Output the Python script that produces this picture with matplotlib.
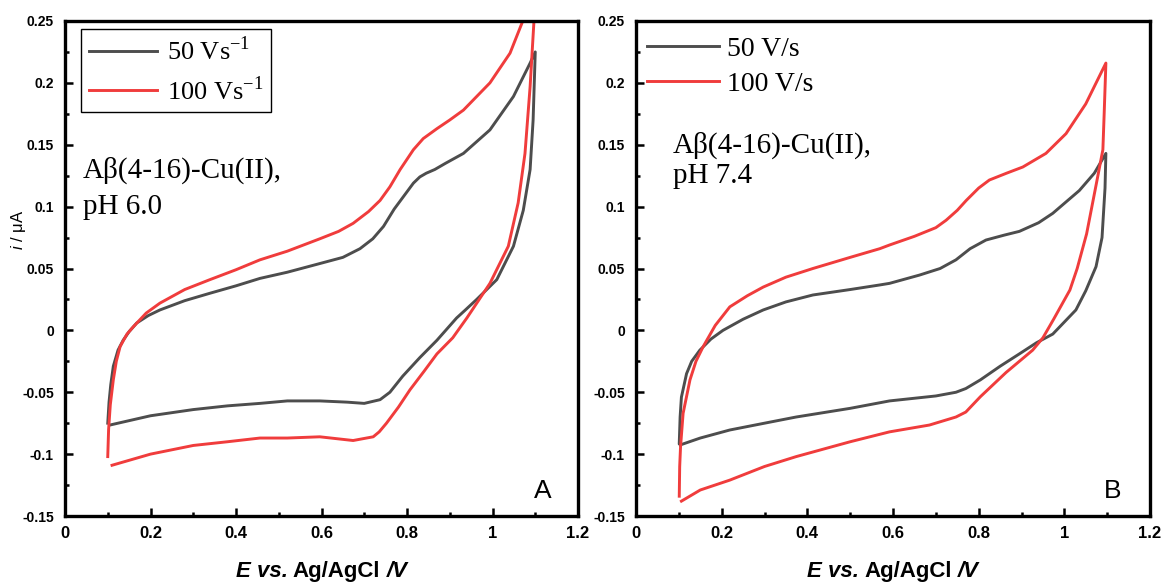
import numpy as np
import matplotlib
matplotlib.use('Agg')
from matplotlib import pyplot as plt
from matplotlib.ticker import MultipleLocator, FuncFormatter

plt.rcParams['font.family'] = 'Liberation Sans'
plt.rcParams['axes.unicode_minus'] = False
plt.rcParams['mathtext.fontset'] = 'custom'
plt.rcParams['mathtext.rm'] = 'Liberation Serif'
plt.rcParams['mathtext.it'] = 'Liberation Sans:italic'

# ---- panel A, pH 6.0 ----
a50_E_fwd = [0.100, 0.103, 0.107, 0.113, 0.124, 0.136, 0.150, 0.168, 0.195, 0.222, 0.280, 0.339, 0.400,
             0.456, 0.520, 0.596, 0.650, 0.690, 0.720, 0.745, 0.770, 0.800, 0.815, 0.830, 0.845, 0.865,
             0.890, 0.932, 0.994, 1.049, 1.088, 1.100]
a50_i_fwd = [-0.075, -0.058, -0.044, -0.029, -0.016, -0.008, -0.001, 0.006, 0.012, 0.0165, 0.024, 0.030,
             0.036, 0.042, 0.047, 0.054, 0.059, 0.066, 0.074, 0.084, 0.098, 0.112, 0.119, 0.124, 0.127,
             0.130, 0.135, 0.143, 0.162, 0.189, 0.216, 0.225]
a50_E_rev = [1.100, 1.095, 1.088, 1.072, 1.049, 1.010, 0.963, 0.935, 0.916, 0.870, 0.830, 0.790, 0.760,
             0.737, 0.700, 0.660, 0.596, 0.520, 0.456, 0.380, 0.300, 0.200, 0.105]
a50_i_rev = [0.225, 0.170, 0.130, 0.097, 0.068, 0.041, 0.025, 0.016, 0.010, -0.008, -0.022, -0.037, -0.050,
             -0.056, -0.059, -0.058, -0.057, -0.057, -0.059, -0.061, -0.064, -0.069, -0.0765]

a100_E_fwd = [0.100, 0.102, 0.106, 0.113, 0.120, 0.129, 0.145, 0.160, 0.190, 0.222, 0.280, 0.339, 0.400,
              0.456, 0.520, 0.596, 0.640, 0.674, 0.710, 0.737, 0.760, 0.784, 0.815, 0.838, 0.870, 0.900,
              0.932, 0.994, 1.041, 1.072, 1.090, 1.100]
a100_i_fwd = [-0.102, -0.080, -0.060, -0.040, -0.025, -0.013, -0.003, 0.003, 0.014, 0.022, 0.033, 0.041,
              0.049, 0.057, 0.064, 0.074, 0.080, 0.0865, 0.096, 0.105, 0.116, 0.130, 0.146, 0.155, 0.163,
              0.170, 0.178, 0.200, 0.224, 0.251, 0.268, 0.275]
a100_E_rev = [1.100, 1.097, 1.088, 1.076, 1.060, 1.037, 0.994, 0.940, 0.907, 0.870, 0.840, 0.807, 0.780,
              0.752, 0.735, 0.721, 0.674, 0.596, 0.520, 0.456, 0.380, 0.300, 0.200, 0.110]
a100_i_rev = [0.275, 0.250, 0.197, 0.143, 0.103, 0.068, 0.038, 0.010, -0.006, -0.019, -0.033, -0.048,
              -0.062, -0.075, -0.082, -0.086, -0.089, -0.086, -0.087, -0.087, -0.090, -0.093, -0.100, -0.109]

# ---- panel B, pH 7.4 ----
b50_E_fwd = [0.101, 0.103, 0.106, 0.118, 0.130, 0.149, 0.175, 0.203, 0.250, 0.297, 0.350, 0.413, 0.500,
             0.569, 0.592, 0.662, 0.710, 0.747, 0.780, 0.817, 0.860, 0.895, 0.940, 0.973, 1.035, 1.070, 1.097]
b50_i_fwd = [-0.091, -0.070, -0.054, -0.035, -0.025, -0.016, -0.007, 0.000, 0.009, 0.0165, 0.023, 0.0286,
             0.033, 0.0367, 0.038, 0.0447, 0.050, 0.057, 0.066, 0.073, 0.077, 0.080, 0.087, 0.0946, 0.113,
             0.127, 0.143]
b50_E_rev = [1.097, 1.095, 1.088, 1.074, 1.050, 1.027, 0.973, 0.935, 0.895, 0.850, 0.804, 0.770, 0.747,
             0.700, 0.646, 0.592, 0.500, 0.374, 0.300, 0.219, 0.150, 0.103]
b50_i_rev = [0.143, 0.115, 0.075, 0.0515, 0.032, 0.0165, -0.003, -0.010, -0.019, -0.029, -0.040, -0.047,
             -0.050, -0.053, -0.055, -0.057, -0.063, -0.070, -0.075, -0.0805, -0.087, -0.0926]

b100_E_fwd = [0.101, 0.102, 0.104, 0.110, 0.126, 0.140, 0.157, 0.185, 0.219, 0.260, 0.297, 0.350, 0.413,
              0.500, 0.569, 0.592, 0.650, 0.700, 0.724, 0.750, 0.771, 0.800, 0.825, 0.865, 0.903, 0.957,
              1.004, 1.050, 1.097]
b100_i_fwd = [-0.134, -0.110, -0.094, -0.067, -0.040, -0.025, -0.013, 0.004, 0.019, 0.028, 0.035, 0.043,
              0.050, 0.059, 0.066, 0.069, 0.076, 0.083, 0.089, 0.097, 0.105, 0.115, 0.1215, 0.127, 0.132,
              0.143, 0.159, 0.183, 0.216]
b100_E_rev = [1.097, 1.093, 1.090, 1.075, 1.052, 1.030, 1.013, 0.975, 0.950, 0.926, 0.864, 0.804, 0.770,
              0.747, 0.685, 0.592, 0.500, 0.374, 0.300, 0.219, 0.150, 0.106]
b100_i_rev = [0.216, 0.175, 0.146, 0.119, 0.078, 0.050, 0.0326, 0.009, -0.006, -0.016, -0.034, -0.0536,
              -0.066, -0.070, -0.0765, -0.082, -0.090, -0.102, -0.110, -0.121, -0.129, -0.138]

GREY = '#4d4d4d'
RED = '#f03c3c'

W, H = 1165, 583
fig = plt.figure(figsize=(W / 100, H / 100), dpi=100)
axA = fig.add_axes([65 / W, 1 - 516 / H, 513 / W, 495 / H])
axB = fig.add_axes([636 / W, 1 - 516 / H, 514 / W, 495 / H])

fmt = FuncFormatter(lambda v, p: f'{round(v, 3) + 0.0:g}')


def style_axes(ax):
    ax.set_xlim(0, 1.2)
    ax.set_ylim(-0.15, 0.25)
    ax.xaxis.set_major_locator(MultipleLocator(0.2))
    ax.xaxis.set_minor_locator(MultipleLocator(0.1))
    ax.yaxis.set_major_locator(MultipleLocator(0.05))
    ax.yaxis.set_minor_locator(MultipleLocator(0.025))
    ax.xaxis.set_major_formatter(fmt)
    ax.yaxis.set_major_formatter(fmt)
    for s in ax.spines.values():
        s.set_linewidth(2.4)
    ax.tick_params(which='both', direction='in', top=False, right=False, width=1.8)
    ax.tick_params(which='major', length=6)
    ax.tick_params(which='minor', length=3)
    ax.tick_params(axis='x', which='major', labelsize=12, pad=7)
    ax.tick_params(axis='y', which='major', labelsize=10, pad=8)
    for lab in ax.get_xticklabels() + ax.get_yticklabels():
        lab.set_fontweight('bold')


def composite_xlabel(ax):
    r = fig.canvas.get_renderer()
    bb = ax.get_window_extent(r)
    kw = dict(fontsize=16, fontweight='bold')

    def w(s, style='normal'):
        t = fig.text(0, 0, s, fontstyle=style, **kw)
        ww = t.get_window_extent(r).width
        t.remove()
        return ww

    total = w('E vs. Ag/AgCl /V')
    x0 = (bb.x0 + bb.x1) / 2 - total / 2
    xs = [x0, x0 + w('E vs. A') - w('A'), x0 + w('E vs. Ag/AgCl /') - w('/')]
    pieces = [('E vs.', 'italic'), ('Ag/AgCl', 'normal'), ('/V', 'italic')]
    for x, (s, st) in zip(xs, pieces):
        fig.text(x / W, (H - 577) / H, s, fontstyle=st, va='baseline', ha='left', **kw)


# panel A
axA.plot(a50_E_fwd + a50_E_rev, a50_i_fwd + a50_i_rev, color=GREY, lw=2.1, label='50 Vs$^{-1}$')
axA.plot(a100_E_fwd + a100_E_rev, a100_i_fwd + a100_i_rev, color=RED, lw=2.1, label='100 Vs$^{-1}$')
style_axes(axA)
leg = axA.legend(loc='upper left', bbox_to_anchor=(0.031, 0.984), borderaxespad=0, fancybox=False,
                 edgecolor='black', framealpha=1, prop={'family': 'Liberation Serif', 'size': 19},
                 handlelength=2.6, handletextpad=0.35, labelspacing=0.45, borderpad=0.3)
leg.get_frame().set_linewidth(1.0)
axA.text(0.035, 0.683, 'A\u03b2(4-16)-Cu(II),', transform=axA.transAxes, family='Liberation Serif',
         fontsize=21, va='baseline')
axA.text(0.035, 0.611, 'pH 6.0', transform=axA.transAxes, family='Liberation Serif', fontsize=21,
         va='baseline')
axA.text(0.932, 0.036, 'A', transform=axA.transAxes, fontsize=19, ha='center', va='baseline')
axA.text(-0.09, 0.578, '$i$ / \u03bcA', transform=axA.transAxes, rotation=90, fontsize=12,
         ha='center', va='center')

# panel B
axB.plot(b50_E_fwd + b50_E_rev, b50_i_fwd + b50_i_rev, color=GREY, lw=2.1, label='50 V/s')
axB.plot(b100_E_fwd + b100_E_rev, b100_i_fwd + b100_i_rev, color=RED, lw=2.1, label='100 V/s')
style_axes(axB)
axB.legend(loc='upper left', bbox_to_anchor=(0.01, 0.98), borderaxespad=0, frameon=False,
           prop={'family': 'Liberation Serif', 'size': 20}, handlelength=2.6, handletextpad=0.3,
           labelspacing=0.35, borderpad=0.2)
axB.text(0.072, 0.733, 'A\u03b2(4-16)-Cu(II),', transform=axB.transAxes, family='Liberation Serif',
         fontsize=21, va='baseline')
axB.text(0.072, 0.673, 'pH 7.4', transform=axB.transAxes, family='Liberation Serif', fontsize=21,
         va='baseline')
axB.text(0.928, 0.036, 'B', transform=axB.transAxes, fontsize=19, ha='center', va='baseline')

composite_xlabel(axA)
composite_xlabel(axB)

fig.savefig('out.png', dpi=100)
